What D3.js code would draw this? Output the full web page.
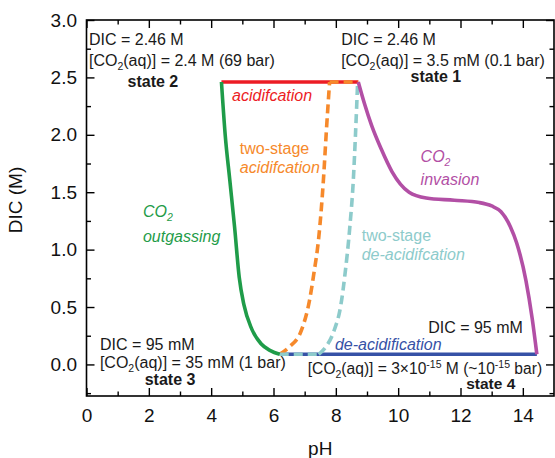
<!DOCTYPE html>
<html>
<head>
<meta charset="utf-8">
<script src="https://cdn.jsdelivr.net/npm/d3@7/dist/d3.min.js"></script>
<style>
  html, body { margin: 0; padding: 0; background: #fff; }
  svg { display: block; }
  text { font-family: "Liberation Sans", Arial, sans-serif; }
</style>
</head>
<body>
<svg id="chart" width="555" height="458"></svg>
<script>
// ---------- data ----------
const xTicks = [0, 2, 4, 6, 8, 10, 12, 14];
const xMinorTicks = [1, 3, 5, 7, 9, 11, 13];
const yTicks = [0.0, 0.5, 1.0, 1.5, 2.0, 2.5, 3.0];
const yMinorTicks = [-0.25, 0.25, 0.75, 1.25, 1.75, 2.25, 2.75];

// [pH, DIC (M)]
const acidification = [[4.33, 2.46], [8.72, 2.46]];
const deacidification = [[6.2, 0.088], [14.45, 0.088]];
const outgassing = [[4.33, 2.46], [4.45, 2.0], [4.6, 1.6], [4.75, 1.2], [4.9, 0.76],
  [5.05, 0.52], [5.3, 0.31], [5.6, 0.18], [5.9, 0.12], [6.2, 0.088]];
const twoStageAcid = [[6.2, 0.088], [6.5, 0.15], [6.9, 0.3], [7.15, 0.55], [7.3, 0.8],
  [7.45, 1.1], [7.6, 1.6], [7.7, 2.05], [7.8, 2.46]];
const twoStageAcidTop = [[7.8, 2.46], [8.72, 2.46]];
const twoStageDeacid = [[7.45, 0.088], [7.7, 0.16], [7.95, 0.3], [8.15, 0.5], [8.3, 0.8],
  [8.45, 1.2], [8.56, 1.6], [8.63, 2.0], [8.7, 2.46]];
const twoStageDeacidBottom = [[6.2, 0.088], [7.45, 0.088]];
const invasion = [[8.72, 2.46], [8.92, 2.27], [9.15, 2.08], [9.45, 1.88], [9.8, 1.68],
  [10.35, 1.5], [10.9, 1.45], [11.8, 1.43], [12.6, 1.41], [13.0, 1.38], [13.3, 1.33],
  [13.6, 1.2], [13.8, 1.06], [14.1, 0.73], [14.3, 0.4], [14.45, 0.088]];

const colors = {
  red: "#ec1c24", blue: "#3651a6", green: "#1f9c49", orange: "#f6892b",
  teal: "#8dcbcb", purple: "#b24fa5", text: "#1a1a1a"
};

// ---------- scales ----------
const svg = d3.select("#chart");
const x = d3.scaleLinear().domain([0, 15]).range([86.5, 554]);
const y = d3.scaleLinear().domain([-0.275, 3]).range([396, 20]);

// ---------- axes ----------
const tickFont = 19;
function styleAxis(g) {
  g.select(".domain").remove();
  g.selectAll("line").attr("stroke", "#000").attr("stroke-width", 1.4);
  g.selectAll("text").attr("font-size", tickFont).attr("fill", "#111")
    .attr("font-family", "Liberation Sans, Arial, sans-serif");
}
function addAxis(axis, tx, ty) {
  const g = svg.append("g").attr("transform", `translate(${tx},${ty})`).call(axis);
  styleAxis(g);
  return g;
}
addAxis(d3.axisBottom(x).tickValues(xTicks).tickFormat(d3.format("d"))
  .tickSizeInner(-8).tickSizeOuter(0).tickPadding(12.5), 0, y.range()[0]);
addAxis(d3.axisBottom(x).tickValues(xMinorTicks).tickFormat("")
  .tickSizeInner(-4.5).tickSizeOuter(0), 0, y.range()[0]);
addAxis(d3.axisTop(x).tickValues(xTicks).tickFormat("")
  .tickSizeInner(-8).tickSizeOuter(0), 0, y.range()[1]);
addAxis(d3.axisTop(x).tickValues(xMinorTicks).tickFormat("")
  .tickSizeInner(-4.5).tickSizeOuter(0), 0, y.range()[1]);
addAxis(d3.axisLeft(y).tickValues(yTicks).tickFormat(d3.format(".1f"))
  .tickSizeInner(-8).tickSizeOuter(0).tickPadding(9.5), x.range()[0], 0);
addAxis(d3.axisLeft(y).tickValues(yMinorTicks).tickFormat("")
  .tickSizeInner(-4.5).tickSizeOuter(0), x.range()[0], 0);
addAxis(d3.axisRight(y).tickValues(yTicks).tickFormat("")
  .tickSizeInner(-8).tickSizeOuter(0), x.range()[1], 0);
addAxis(d3.axisRight(y).tickValues(yMinorTicks).tickFormat("")
  .tickSizeInner(-4.5).tickSizeOuter(0), x.range()[1], 0);

// frame
svg.append("rect")
  .attr("x", x.range()[0]).attr("y", y.range()[1])
  .attr("width", x.range()[1] - x.range()[0])
  .attr("height", y.range()[0] - y.range()[1])
  .attr("fill", "none").attr("stroke", "#000").attr("stroke-width", 1.6);

// axis titles
svg.append("text").attr("x", (x.range()[0] + x.range()[1]) / 2).attr("y", 455)
  .attr("text-anchor", "middle").attr("font-size", 19).attr("fill", "#111").text("pH");
svg.append("text").attr("transform", `translate(22,${(y.range()[0] + y.range()[1]) / 2 - 8}) rotate(-90)`)
  .attr("text-anchor", "middle").attr("font-size", 19).attr("fill", "#111").text("DIC (M)");

// ---------- curves ----------
const straight = d3.line().x(d => x(d[0])).y(d => y(d[1]));
const smooth = d3.line().x(d => x(d[0])).y(d => y(d[1])).curve(d3.curveMonotoneX);
const lw = 3.6;
function draw(data, gen, color, dash) {
  svg.append("path").datum(data).attr("d", gen)
    .attr("fill", "none").attr("stroke", color).attr("stroke-width", lw)
    .attr("stroke-dasharray", dash || null);
}
draw(acidification, straight, colors.red);
draw(deacidification, straight, colors.blue);
draw(twoStageAcid, smooth, colors.orange, "9,5");
draw(twoStageAcidTop, straight, colors.orange, "9,5");
draw(twoStageDeacid, smooth, colors.teal, "9,5");
draw(twoStageDeacidBottom, straight, colors.teal, "9,5");
draw(outgassing, smooth, colors.green);
draw(invasion, smooth, colors.purple);

// ---------- annotations ----------
// parts: [text, "n" | "sub" | "sup"]
function label(px, py, parts, opts = {}) {
  const t = svg.append("text")
    .attr("x", x(px)).attr("y", y(py))
    .attr("font-size", opts.size || 16)
    .attr("fill", opts.color || colors.text)
    .attr("font-style", opts.italic ? "italic" : null)
    .attr("font-weight", opts.bold ? "bold" : null)
    .attr("text-anchor", opts.anchor || "start");
  let shift = 0;
  parts.forEach(p => {
    const [s, k] = Array.isArray(p) ? p : [p, "n"];
    let target = 0, fs = null;
    if (k === "sub") { target = 4; fs = 10.5; }
    if (k === "sup") { target = -6; fs = 10.5; }
    const ts = t.append("tspan").attr("dy", target - shift).text(s);
    if (fs) ts.attr("font-size", fs);
    shift = target;
  });
  return t;
}

label(0.08, 2.782, ["DIC = 2.46 M"]);
label(0.08, 2.599, ["[CO", ["2", "sub"], "(aq)] = 2.4 M (69 bar)"]);
label(2.13, 2.416, ["state 2"], { bold: true, anchor: "middle" });

label(8.17, 2.782, ["DIC = 2.46 M"]);
label(8.17, 2.599, ["[CO", ["2", "sub"], "(aq)] = 3.5 mM (0.1 bar)"]);
label(11.21, 2.46, ["state 1"], { bold: true, anchor: "middle" });

label(4.67, 2.294, ["acidifcation"], { italic: true, color: colors.red });

label(4.92, 1.833, ["two-stage"], { color: colors.orange });
label(4.92, 1.667, ["acidifcation"], { italic: true, color: colors.orange });

label(1.81, 1.284, ["CO", ["2", "sub"]], { italic: true, color: colors.green });
label(1.81, 1.066, ["outgassing"], { italic: true, color: colors.green });

label(8.83, 1.075, ["two-stage"], { color: colors.teal });
label(8.83, 0.909, ["de-acidifcation"], { italic: true, color: colors.teal });

label(10.72, 1.762, ["CO", ["2", "sub"]], { italic: true, color: colors.purple });
label(10.72, 1.562, ["invasion"], { italic: true, color: colors.purple });

label(0.43, 0.125, ["DIC = 95 mM"]);
label(0.43, -0.03, ["[CO", ["2", "sub"], "(aq)] = 35 mM (1 bar)"]);
label(2.68, -0.179, ["state 3"], { bold: true, anchor: "middle" });

label(14.0, 0.273, ["DIC = 95 mM"], { anchor: "end" });
label(7.97, 0.125, ["de-acidification"], { italic: true, color: colors.blue });
label(7.1, -0.084, ["[CO", ["2", "sub"], "(aq)] = 3\u00d710", ["-15", "sup"], " M (~10", ["-15", "sup"], " bar)"], { size: 15.6 });
label(12.97, -0.214, ["state 4"], { bold: true, anchor: "middle", size: 15.5 });
</script>
</body>
</html>
